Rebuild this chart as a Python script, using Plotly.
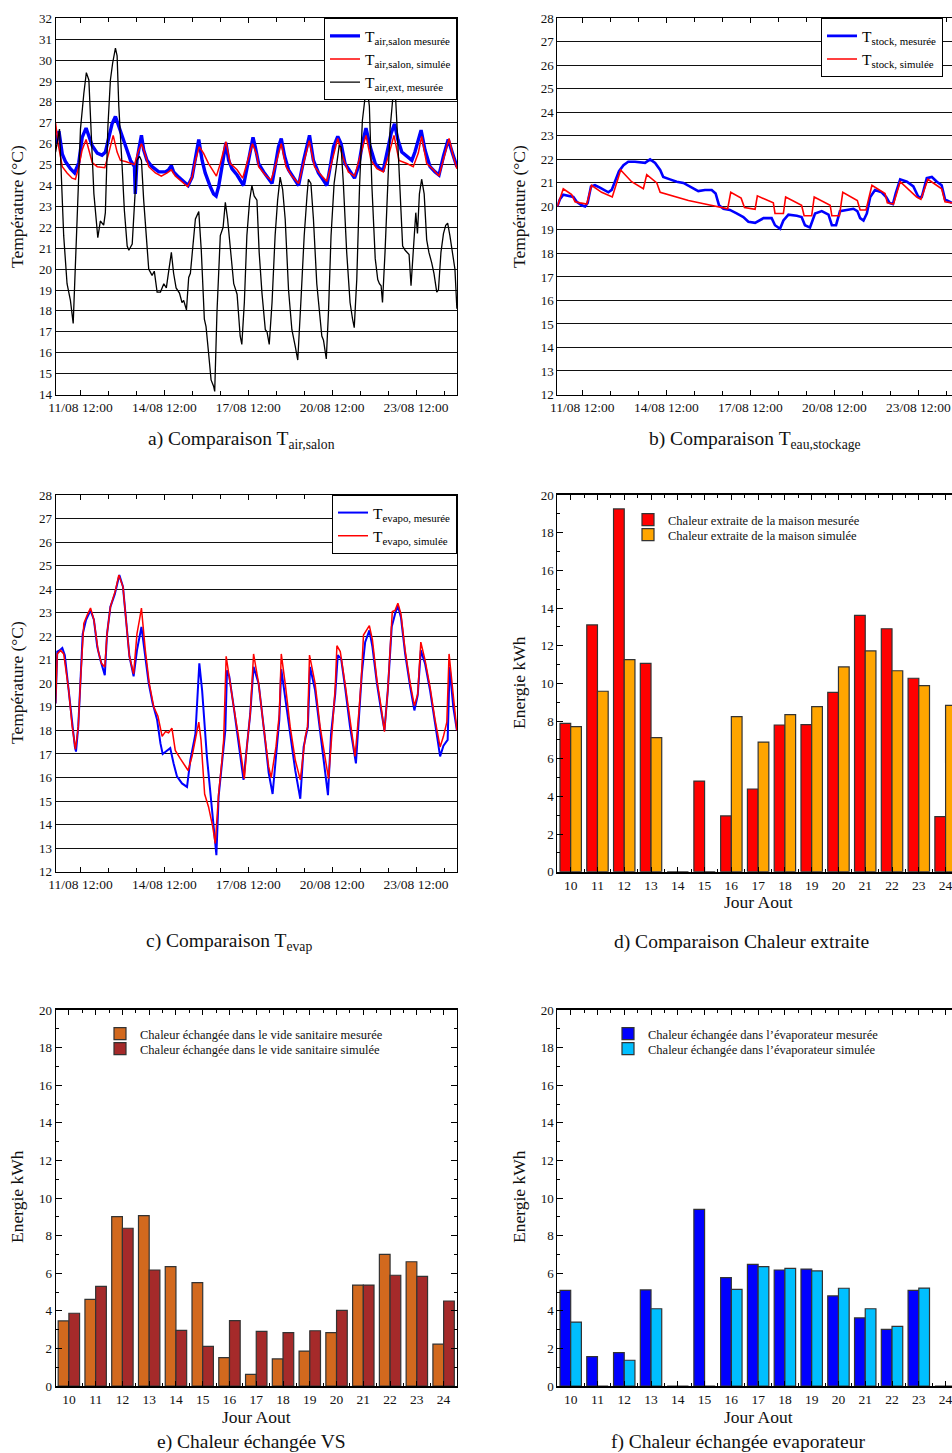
import plotly.graph_objects as go

FONT = "Liberation Serif"
W, H = 952, 1453

# ---------------- time axis: day of August (fractional) ----------------
DATE_TICKS = [11.5, 14.5, 17.5, 20.5, 23.5]
DATE_LABELS = ["11/08 12:00", "14/08 12:00", "17/08 12:00", "20/08 12:00", "23/08 12:00"]

# a) T air salon / exterieur
salon_mes_t = [10.61, 10.73, 10.85, 10.96, 11.14, 11.29, 11.44, 11.56, 11.70, 11.80,
               11.92, 12.10, 12.27, 12.39, 12.51, 12.63, 12.75, 12.87, 12.99, 13.11,
               13.29, 13.43, 13.46, 13.52, 13.61, 13.68, 13.76, 13.88, 14.06, 14.30,
               14.54, 14.65, 14.75, 14.83, 15.01, 15.19, 15.35, 15.49, 15.61, 15.73,
               15.85, 15.96, 16.14, 16.26, 16.35, 16.44, 16.56, 16.70, 16.80, 16.92,
               17.10, 17.21, 17.33, 17.51, 17.67,
               17.75, 17.87, 18.05, 18.23, 18.35, 18.46, 18.58, 18.68, 18.80, 18.94,
               19.12, 19.30, 19.48, 19.69, 19.83, 20.01, 20.19, 20.31, 20.43, 20.55,
               20.70, 20.82, 20.96, 21.14, 21.30, 21.44, 21.58, 21.71, 21.86, 22.04,
               22.21, 22.33, 22.45, 22.61, 22.73, 22.85, 22.99, 23.17, 23.35, 23.46,
               23.58, 23.68, 23.82, 24.00, 24.18, 24.32, 24.48, 24.65, 24.80, 24.96]
salon_mes_v = [26.0, 26.6, 25.5, 25.15, 24.8, 24.6, 25.1, 26.3, 26.75, 26.3,
               25.9, 25.55, 25.45, 25.6, 26.3, 26.95, 27.3, 26.8, 26.3, 25.9,
               25.2, 24.9, 23.6, 25.2, 25.9, 26.4, 25.7, 25.2, 24.9, 24.65,
               24.65, 24.75, 24.95, 24.65, 24.4, 24.2, 24.0, 24.4, 25.4, 26.2,
               25.2, 24.6, 23.95, 23.6, 23.5, 23.95, 24.9, 26.05, 25.2, 24.8,
               24.5, 24.25, 24.0, 25.2, 26.3,
               25.85, 25.05, 24.65, 24.35, 24.1, 24.9, 25.85, 26.25, 25.4, 24.75,
               24.35, 24.0, 25.2, 26.4, 25.2, 24.6, 24.25, 24.0, 24.9, 25.85,
               26.35, 26.0, 25.05, 24.65, 24.35, 24.9, 26.0, 26.75, 25.85, 25.05,
               24.8, 24.75, 25.55, 26.5, 26.95, 26.2, 25.6, 25.4, 25.2, 25.6,
               26.2, 26.65, 25.7, 24.9, 24.65, 24.5, 25.4, 26.2, 25.55, 24.9]

salon_sim_t = [10.61, 10.70, 10.85, 11.02, 11.20, 11.32, 11.44, 11.56, 11.70, 11.80,
               11.92, 12.10, 12.37, 12.51, 12.67, 12.81, 12.93, 13.11, 13.29, 13.43,
               13.56, 13.68, 13.80, 13.94, 14.18, 14.39, 14.60, 14.75, 14.89, 15.13,
               15.33, 15.49, 15.61, 15.75, 15.90, 16.08, 16.26, 16.36, 16.50, 16.70,
               16.86, 17.10, 17.30, 17.49, 17.65, 17.81,
               17.87, 18.11, 18.32, 18.49, 18.68, 18.85, 19.06, 19.30, 19.48, 19.68,
               19.87, 20.13, 20.31, 20.49, 20.70, 20.87, 21.08, 21.30, 21.50, 21.71,
               21.89, 22.10, 22.33, 22.51, 22.71, 22.89, 23.17, 23.40, 23.58, 23.70,
               23.88, 24.12, 24.32, 24.51, 24.68, 24.83, 24.96]
salon_sim_v = [27.0, 26.0, 24.9, 24.6, 24.35, 24.3, 24.9, 25.7, 26.2, 25.7,
               25.1, 24.9, 24.85, 25.55, 26.4, 25.6, 25.2, 25.15, 25.05, 25.0,
               25.6, 26.0, 25.55, 24.9, 24.6, 24.45, 24.6, 24.75, 24.45, 24.2,
               23.95, 24.4, 25.2, 25.85, 25.55, 25.05, 24.65, 24.45, 25.05, 26.1,
               25.05, 24.75, 24.35, 25.2, 26.0, 25.45,
               24.9, 24.5, 24.25, 25.05, 26.0, 24.9, 24.45, 24.1, 25.05, 26.15,
               24.9, 24.45, 24.2, 25.2, 26.25, 25.4, 24.65, 24.45, 25.4, 26.4,
               25.2, 24.8, 24.65, 25.4, 26.4, 25.2, 25.05, 24.9, 25.55, 26.35,
               25.05, 24.75, 24.45, 25.4, 26.25, 25.4, 24.8]

ext_t = [10.61, 10.75, 10.90, 11.02, 11.14, 11.24, 11.38, 11.50, 11.62, 11.71,
         11.80, 11.88, 11.98, 12.12, 12.21, 12.33, 12.39, 12.48, 12.57, 12.65,
         12.75, 12.81, 12.87, 12.99, 13.07, 13.17, 13.23, 13.35, 13.43, 13.52,
         13.61, 13.68, 13.76, 13.84, 13.94, 14.06, 14.14, 14.24, 14.36, 14.48,
         14.57, 14.75, 14.83, 14.92, 15.04, 15.13, 15.19, 15.29, 15.37, 15.43,
         15.52, 15.61, 15.73, 15.82, 15.93, 15.99, 16.08, 16.17, 16.26, 16.30,
         16.38, 16.50, 16.60, 16.68, 16.76, 16.86, 16.98, 17.10, 17.15, 17.21,
         17.27, 17.36, 17.45, 17.55, 17.63, 17.71,
         17.81, 17.89, 17.99, 18.11, 18.17, 18.25, 18.35, 18.46, 18.55, 18.64,
         18.73, 18.82, 18.94, 19.06, 19.18, 19.27, 19.38, 19.50, 19.60, 19.65,
         19.74, 19.83, 19.95, 20.07, 20.13, 20.19, 20.29, 20.37, 20.46, 20.57,
         20.67, 20.75, 20.82, 20.90, 21.02, 21.14, 21.23, 21.29, 21.38, 21.48,
         21.58, 21.68, 21.76, 21.83, 21.92, 22.04, 22.13, 22.19, 22.25, 22.30,
         22.39, 22.49, 22.57, 22.65, 22.73, 22.81, 22.89, 22.96, 23.02, 23.11,
         23.17, 23.25, 23.32, 23.40, 23.49, 23.55, 23.62, 23.70, 23.79, 23.88,
         23.96, 24.06, 24.14, 24.24, 24.30, 24.39, 24.48, 24.56, 24.63, 24.71,
         24.80, 24.89, 24.96]
ext_v = [25.6, 26.7, 21.6, 19.3, 18.5, 17.4, 22.4, 26.7, 28.4, 29.4,
         29.05, 26.7, 23.6, 21.5, 22.3, 22.1, 22.7, 26.8, 29.05, 29.85,
         30.57, 30.2, 27.8, 24.9, 22.8, 21.1, 20.9, 21.2, 23.0, 25.2,
         25.4, 25.2, 23.3, 21.7, 20.0, 19.7, 19.9, 18.9, 18.9, 19.3,
         19.1, 20.8, 19.8, 19.1, 18.85, 18.4, 18.5, 18.05, 19.6, 19.8,
         21.1, 22.4, 22.75, 20.9, 17.6, 17.25, 16.0, 14.7, 14.4, 14.15,
         17.9, 21.6, 22.0, 23.2, 22.4, 20.8, 19.3, 18.8, 18.0, 16.8,
         16.4, 18.4, 21.6, 23.3, 24.0, 23.5,
         23.3, 20.8, 18.85, 17.1, 17.0, 16.4, 18.4, 21.6, 23.3, 24.4,
         23.8, 22.4, 19.0, 17.1, 16.3, 15.65, 18.4, 21.6, 23.5, 24.3,
         24.1, 22.4, 19.3, 17.6, 16.8, 16.6, 15.7, 18.0, 21.6, 24.1,
         25.2, 25.9, 25.85, 24.1, 20.8, 18.4, 17.6, 17.2, 19.5, 24.0,
         27.1, 28.25, 28.6, 27.8, 24.0, 20.5, 19.5, 19.3, 19.2, 18.4,
         20.8, 24.3, 26.7, 27.9, 29.2, 27.1, 24.75, 22.4, 21.1, 20.9,
         20.8, 20.7, 19.2, 20.8, 22.7, 21.7, 23.6, 24.3, 23.6, 21.4,
         20.8, 20.3, 19.8, 18.9, 19.0, 20.8, 21.7, 22.1, 22.2, 21.6,
         20.8, 20.0, 18.1]

# b) T eau stockage
stock_mes_t = [10.61, 10.70, 10.82, 11.00, 11.18, 11.30, 11.48, 11.60, 11.69, 11.81,
               11.95, 12.13, 12.31, 12.43, 12.55, 12.67, 12.81, 12.97, 13.14, 13.38,
               13.62, 13.74, 13.92, 14.10, 14.28, 14.39, 14.63, 14.87, 15.11, 15.41,
               15.64, 15.88, 16.12, 16.26, 16.38, 16.54, 16.77, 17.01, 17.25, 17.43,
               17.67, 17.97, 18.26, 18.38, 18.56, 18.68, 18.86, 19.16, 19.33, 19.45,
               19.63, 19.81, 20.05, 20.29, 20.41, 20.56, 20.70, 20.94, 21.18, 21.32,
               21.42, 21.54, 21.66, 21.78, 21.95, 22.19, 22.35, 22.47, 22.59, 22.69,
               22.85, 23.09, 23.32, 23.50, 23.62, 23.80, 23.98, 24.16, 24.33, 24.45,
               24.63, 24.70]
stock_mes_v = [20.0, 20.3, 20.5, 20.45, 20.4, 20.2, 20.05, 20.0, 20.15, 20.85,
               20.9, 20.8, 20.7, 20.6, 20.7, 21.05, 21.5, 21.75, 21.9, 21.9,
               21.85, 21.85, 22.0, 21.85, 21.55, 21.25, 21.15, 21.05, 21.0, 20.8,
               20.65, 20.7, 20.7, 20.55, 20.05, 19.9, 19.85, 19.7, 19.55, 19.35,
               19.3, 19.5, 19.5, 19.2, 19.05, 19.4, 19.65, 19.6, 19.55, 19.2,
               19.1, 19.7, 19.8, 19.65, 19.2, 19.2, 19.8, 19.85, 19.9, 19.8,
               19.5, 19.4, 19.7, 20.4, 20.7, 20.6, 20.4, 20.15, 20.1, 20.55,
               21.15, 21.05, 20.85, 20.4, 20.4, 21.2, 21.25, 21.05, 20.9, 20.3,
               20.2, 20.15]

stock_sim_t = [10.61, 10.82, 11.12, 11.24, 11.42, 11.66, 11.83, 12.19, 12.57, 12.69,
               12.87, 13.26, 13.68, 13.80, 14.16, 14.28, 14.69, 15.29, 15.88, 16.36,
               16.69, 16.80, 17.17, 17.29, 17.67, 17.75, 18.32, 18.38, 18.68, 18.76,
               19.33, 19.42, 19.69, 19.78, 20.35, 20.41, 20.68, 20.80, 21.32, 21.42,
               21.63, 21.84, 22.31, 22.39, 22.61, 22.85, 23.44, 23.59, 23.84, 24.33,
               24.45, 24.70]
stock_sim_v = [20.0, 20.75, 20.5, 20.2, 20.15, 20.1, 20.9, 20.6, 20.4, 20.9,
               21.55, 21.05, 20.75, 21.35, 21.0, 20.6, 20.45, 20.25, 20.1, 19.97,
               19.9, 20.6, 20.35, 19.95, 19.88, 20.45, 20.15, 19.7, 19.7, 20.4,
               20.05, 19.6, 19.6, 20.4, 20.05, 19.6, 19.6, 20.6, 20.25, 19.85,
               19.85, 20.9, 20.55, 20.15, 20.1, 21.05, 20.4, 20.3, 21.15, 20.75,
               20.2, 20.15]

# c) T evaporateur
evap_mes_t = [10.61, 10.67, 10.75, 10.85, 10.94, 11.08, 11.20, 11.30, 11.34, 11.42,
              11.50, 11.58, 11.70, 11.86, 11.98, 12.10, 12.21, 12.37, 12.45, 12.57,
              12.73, 12.89, 13.02, 13.13, 13.25, 13.40, 13.52, 13.68, 13.80, 13.94,
              14.08, 14.24, 14.36, 14.44, 14.60, 14.71, 14.83, 14.95, 15.13, 15.31,
              15.43, 15.61, 15.75, 15.85, 16.02, 16.20, 16.36, 16.44, 16.56, 16.68,
              16.74, 16.82, 16.98, 17.15, 17.33, 17.45, 17.57, 17.69,
              17.87, 18.05, 18.23, 18.37, 18.49, 18.61, 18.68, 18.82, 19.00, 19.18,
              19.36, 19.48, 19.63, 19.71, 19.89, 20.07, 20.23, 20.35, 20.46, 20.61,
              20.70, 20.82, 20.96, 21.14, 21.35, 21.46, 21.56, 21.68, 21.83, 21.94,
              22.10, 22.25, 22.37, 22.49, 22.63, 22.75, 22.85, 22.96, 23.11, 23.29,
              23.44, 23.56, 23.67, 23.82, 24.00, 24.18, 24.36, 24.48, 24.63, 24.70,
              24.83, 24.96]
evap_mes_v = [19.15, 21.35, 21.4, 21.5, 21.2, 19.7, 18.15, 17.3, 17.1, 18.15,
              20.1, 22.1, 22.7, 23.1, 22.7, 21.55, 21.0, 20.35, 22.1, 23.25,
              23.8, 24.6, 24.1, 22.55, 21.15, 20.3, 21.4, 22.4, 21.3, 20.0,
              19.15, 18.45, 17.45, 17.0, 17.15, 17.25, 16.6, 16.05, 15.75, 15.6,
              16.75, 17.85, 20.85, 19.7, 16.9, 14.75, 12.7, 15.2, 16.75, 18.0,
              20.55, 20.3, 19.0, 17.6, 15.9, 17.3, 18.7, 20.7,
              20.0, 18.15, 16.2, 15.3, 17.0, 18.45, 20.6, 19.45, 17.85, 16.3,
              15.1, 17.3, 18.15, 20.7, 19.7, 17.85, 16.45, 15.25, 17.85, 19.55,
              21.2, 21.05, 19.85, 18.15, 16.6, 18.7, 20.4, 21.75, 22.25, 21.55,
              20.0, 18.85, 18.0, 19.7, 22.4, 22.95, 23.3, 22.8, 21.25, 19.85,
              18.85, 19.5, 21.4, 20.85, 19.7, 18.3, 16.9, 17.35, 17.6, 20.7,
              19.0, 18.0]

evap_sim_t = [10.61, 10.67, 10.79, 10.90, 11.08, 11.20, 11.32, 11.42, 11.50, 11.62,
              11.74, 11.86, 11.98, 12.13, 12.25, 12.37, 12.45, 12.57, 12.75, 12.87,
              13.02, 13.13, 13.25, 13.40, 13.52, 13.61, 13.68, 13.73, 13.82, 13.96,
              14.12, 14.27, 14.42, 14.54, 14.65, 14.77, 14.89, 15.07, 15.25, 15.35,
              15.49, 15.63, 15.73, 15.81, 15.94, 16.08, 16.23, 16.32, 16.44, 16.56,
              16.62, 16.71, 16.80, 16.98, 17.15, 17.36, 17.45, 17.57, 17.69,
              17.87, 18.05, 18.23, 18.32, 18.49, 18.61, 18.68, 18.82, 19.00, 19.18,
              19.36, 19.54, 19.62, 19.69, 19.89, 20.07, 20.25, 20.37, 20.51, 20.61,
              20.67, 20.79, 20.96, 21.14, 21.32, 21.46, 21.54, 21.62, 21.83, 21.94,
              22.10, 22.25, 22.37, 22.49, 22.61, 22.65, 22.75, 22.85, 22.96, 23.11,
              23.29, 23.44, 23.56, 23.67, 23.82, 24.00, 24.18, 24.36, 24.48, 24.60,
              24.68, 24.83, 24.96]
evap_sim_v = [19.15, 21.25, 21.4, 21.25, 19.7, 18.2, 17.2, 18.15, 20.1, 22.55,
              22.9, 23.2, 22.7, 21.4, 20.85, 20.7, 22.1, 23.25, 23.95, 24.6,
              24.1, 22.55, 21.15, 20.4, 22.1, 22.7, 23.2, 22.55, 21.4, 20.0,
              19.0, 18.6, 17.75, 17.95, 17.9, 18.1, 17.15, 16.8, 16.45, 16.3,
              16.9, 17.85, 18.35, 17.6, 15.3, 14.75, 13.9, 13.2, 15.3, 16.75,
              17.6, 21.15, 20.4, 19.0, 17.75, 15.95, 17.3, 18.7, 21.25,
              20.0, 18.15, 16.45, 16.0, 17.3, 18.7, 21.25, 20.0, 18.15, 16.75,
              15.9, 17.75, 18.15, 21.2, 20.0, 18.15, 16.75, 15.95, 18.15, 19.85,
              21.6, 21.35, 20.0, 18.45, 16.9, 18.85, 20.15, 22.05, 22.45, 21.85,
              20.15, 19.0, 17.95, 19.7, 22.1, 23.05, 23.1, 23.4, 22.95, 21.4,
              20.0, 19.05, 19.55, 21.75, 21.0, 19.85, 18.45, 17.3, 17.75, 18.35,
              21.25, 19.45, 18.0]

# ---------------- daily energies (kWh) ----------------
jours = list(range(10, 25))
extraite_mes = [7.88, 13.1, 19.26, 11.06, 0, 4.81, 2.96, 4.39, 7.79, 7.81, 9.52, 13.61, 12.9, 10.27, 2.92]
extraite_sim = [7.70, 9.58, 11.26, 7.12, 0, 0, 8.23, 6.88, 8.34, 8.76, 10.87, 11.72, 10.67, 9.88, 8.83]
vs_mes = [3.46, 4.61, 9.01, 9.06, 6.35, 5.5, 1.51, 0.62, 1.44, 1.86, 2.84, 5.37, 7.0, 6.61, 2.23]
vs_sim = [3.87, 5.30, 8.39, 6.17, 2.96, 2.11, 3.48, 2.91, 2.84, 2.94, 4.02, 5.37, 5.89, 5.83, 4.52]
evapo_mes = [5.09, 1.56, 1.77, 5.11, 0, 9.40, 5.76, 6.47, 6.17, 6.22, 4.79, 3.62, 3.01, 5.09, 0]
evapo_sim = [3.40, 0, 1.37, 4.11, 0, 0, 5.14, 6.35, 6.26, 6.12, 5.2, 4.11, 3.17, 5.21, 0]

# ---------------- layout geometry ----------------
LEFT = [55.5 / W, 457 / W]
RIGHT = [557.3 / W, 1.0]
ROW1 = [1 - 394.5 / H, 1 - 18.3 / H]
ROW2 = [1 - 871.7 / H, 1 - 495 / H]
ROW3 = [1 - 1386 / H, 1 - 1010 / H]
T_LEFT = [10.607, 24.964]
T_RIGHT = [10.607, 24.70]
D_LEFT = [9.5, 24.5]
D_RIGHT = [9.5, 24.24]

tick_font = dict(family=FONT, size=13, color="#111")


def time_xaxis(domain, rng, anchor):
    return dict(domain=domain, range=rng, anchor=anchor, tickmode="array",
                tickvals=DATE_TICKS, ticktext=DATE_LABELS, ticks="inside", ticklen=5,
                tickcolor="black", showline=True, linecolor="black", linewidth=1,
                mirror="ticks", showgrid=False, zeroline=False,
                ticklabeloverflow="allow", tickfont=dict(tick_font, size=13.5),
                minor=dict(tickmode="linear", tick0=0.5, dtick=1, ticks="inside",
                           ticklen=4, tickcolor="black", showgrid=False))


def temp_yaxis(domain, rng, anchor, mirror):
    return dict(domain=domain, range=rng, anchor=anchor, tickmode="linear", tick0=0,
                dtick=1, ticks="", showgrid=True, gridcolor="#111", gridwidth=1,
                showline=True, linecolor="black", linewidth=1, mirror=mirror,
                zeroline=False, tickfont=tick_font)


def day_xaxis(domain, rng, anchor):
    return dict(domain=domain, range=rng, anchor=anchor, tickmode="linear", tick0=10,
                dtick=1, ticks="inside", ticklen=5, tickcolor="black", showline=True,
                linecolor="black", linewidth=1.5, mirror="ticks", showgrid=False,
                zeroline=False, ticklabeloverflow="allow",
                tickfont=dict(tick_font, size=13.5),
                minor=dict(tickmode="linear", tick0=9.5, dtick=1, ticks="inside",
                           ticklen=3, tickcolor="black", showgrid=False))


def energy_yaxis(domain, anchor, mirror):
    return dict(domain=domain, range=[0, 20], anchor=anchor, tickmode="linear",
                tick0=0, dtick=2, ticks="inside", ticklen=6, tickcolor="black",
                showline=True, linecolor="black", linewidth=1, mirror=mirror,
                showgrid=False, zeroline=False, tickfont=tick_font,
                minor=dict(tickmode="linear", tick0=0, dtick=1, ticks="inside",
                           ticklen=3, tickcolor="black", showgrid=False))


fig = go.Figure()

# a)
fig.add_trace(go.Scatter(x=salon_mes_t, y=salon_mes_v, mode="lines", line=dict(color="#0000ff", width=3.4),
                         name="T<sub>air,salon mesurée</sub>", xaxis="x", yaxis="y", legend="legend"))
fig.add_trace(go.Scatter(x=salon_sim_t, y=salon_sim_v, mode="lines", line=dict(color="#ff0000", width=1.5),
                         name="T<sub>air,salon, simulée</sub>", xaxis="x", yaxis="y", legend="legend"))
fig.add_trace(go.Scatter(x=ext_t, y=ext_v, mode="lines", line=dict(color="black", width=1.3),
                         name="T<sub>air,ext, mesurée</sub>", xaxis="x", yaxis="y", legend="legend"))
# b)
fig.add_trace(go.Scatter(x=stock_mes_t, y=stock_mes_v, mode="lines", line=dict(color="#0000ff", width=2.6),
                         name="T<sub>stock, mesurée</sub>", xaxis="x2", yaxis="y2", legend="legend2"))
fig.add_trace(go.Scatter(x=stock_sim_t, y=stock_sim_v, mode="lines", line=dict(color="#ff0000", width=1.6),
                         name="T<sub>stock, simulée</sub>", xaxis="x2", yaxis="y2", legend="legend2"))
# c)
fig.add_trace(go.Scatter(x=evap_mes_t, y=evap_mes_v, mode="lines", line=dict(color="#0000ff", width=2),
                         name="T<sub>evapo, mesurée</sub>", xaxis="x3", yaxis="y3", legend="legend3"))
fig.add_trace(go.Scatter(x=evap_sim_t, y=evap_sim_v, mode="lines", line=dict(color="#ff0000", width=1.5),
                         name="T<sub>evapo, simulée</sub>", xaxis="x3", yaxis="y3", legend="legend3"))

bar_line = dict(color="#333", width=1.2)
# d)
fig.add_trace(go.Bar(x=jours, y=extraite_mes, marker=dict(color="#ff0000", line=bar_line),
                     name="Chaleur extraite de la maison mesurée", xaxis="x4", yaxis="y4", legend="legend4"))
fig.add_trace(go.Bar(x=jours, y=extraite_sim, marker=dict(color="#ffa500", line=bar_line),
                     name="Chaleur extraite de la maison simulée", xaxis="x4", yaxis="y4", legend="legend7"))
# e)
fig.add_trace(go.Bar(x=jours, y=vs_mes, marker=dict(color="#d2691e", line=bar_line),
                     name="Chaleur échangée dans le vide sanitaire mesurée", xaxis="x5", yaxis="y5", legend="legend5"))
fig.add_trace(go.Bar(x=jours, y=vs_sim, marker=dict(color="#a52a2a", line=bar_line),
                     name="Chaleur échangée dans le vide sanitaire simulée", xaxis="x5", yaxis="y5", legend="legend8"))
# f)
fig.add_trace(go.Bar(x=jours, y=evapo_mes, marker=dict(color="#0000ff", line=bar_line),
                     name="Chaleur échangée dans l’évaporateur mesurée", xaxis="x6", yaxis="y6", legend="legend6"))
fig.add_trace(go.Bar(x=jours, y=evapo_sim, marker=dict(color="#00bfff", line=bar_line),
                     name="Chaleur échangée dans l’évaporateur simulée", xaxis="x6", yaxis="y6", legend="legend9"))

line_legend = dict(bgcolor="white", bordercolor="black", borderwidth=1,
                   font=dict(family=FONT, size=15.5, color="black"), tracegroupgap=0)
bar_legend = dict(bgcolor="rgba(0,0,0,0)", borderwidth=0, itemwidth=30,
                  font=dict(family=FONT, size=12.5, color="#111"), tracegroupgap=0)


def bar_leg(x, top):
    return dict(bar_legend, x=x / W, xanchor="left", y=1 - top / H, yanchor="top")


def annot(text, cx, cy, size, angle=0):
    return dict(text=text, x=cx / W, y=1 - cy / H, xref="paper", yref="paper",
                xanchor="center", yanchor="middle", showarrow=False, textangle=angle,
                font=dict(family=FONT, size=size, color="#111"))


annotations = [
    annot("a) Comparaison T<sub>air,salon</sub>", 241, 440, 19.5),
    annot("b) Comparaison T<sub>eau,stockage</sub>", 755, 440, 19.5),
    annot("c) Comparaison T<sub>evap</sub>", 229, 942, 19.5),
    annot("d) Comparaison Chaleur extraite", 741, 942, 19.5),
    annot("e) Chaleur échangée VS", 251, 1442, 19.5),
    annot("f) Chaleur échangée evaporateur", 738, 1442, 19.5),
    annot("Température (°C)", 17, 207, 17.5, -90),
    annot("Température (°C)", 519, 207, 17.5, -90),
    annot("Température (°C)", 17, 683, 17.5, -90),
    annot("Energie kWh", 519, 683, 17.5, -90),
    annot("Energie kWh", 17, 1197, 17.5, -90),
    annot("Energie kWh", 519, 1197, 17.5, -90),
    annot("Jour Aout", 758, 902, 17.5),
    annot("Jour Aout", 256, 1417, 17.5),
    annot("Jour Aout", 758, 1417, 17.5),
]

fig.update_layout(
    width=W, height=H,
    margin=dict(l=0, r=0, t=0, b=0, autoexpand=False),
    paper_bgcolor="white", plot_bgcolor="white",
    font=dict(family=FONT, color="#111"),
    barmode="group", bargap=0.2, bargroupgap=0,
    showlegend=True,
    xaxis=time_xaxis(LEFT, T_LEFT, "y"),
    yaxis=temp_yaxis(ROW1, [14, 32], "x", True),
    xaxis2=time_xaxis(RIGHT, T_RIGHT, "y2"),
    yaxis2=temp_yaxis(ROW1, [12, 28], "x2", False),
    xaxis3=time_xaxis(LEFT, T_LEFT, "y3"),
    yaxis3=temp_yaxis(ROW2, [12, 28], "x3", True),
    xaxis4=day_xaxis(RIGHT, D_RIGHT, "y4"),
    yaxis4=energy_yaxis(ROW2, "x4", False),
    xaxis5=day_xaxis(LEFT, D_LEFT, "y5"),
    yaxis5=energy_yaxis(ROW3, "x5", "ticks"),
    xaxis6=day_xaxis(RIGHT, D_RIGHT, "y6"),
    yaxis6=energy_yaxis(ROW3, "x6", False),
    legend=dict(line_legend, x=457 / W, xanchor="right", y=1 - 18.3 / H, yanchor="top"),
    legend2=dict(line_legend, x=821 / W, xanchor="left", y=1 - 18.3 / H, yanchor="top"),
    legend3=dict(line_legend, x=457 / W, xanchor="right", y=1 - 495 / H, yanchor="top"),
    legend4=bar_leg(628, 505),
    legend7=bar_leg(628, 520),
    legend5=bar_leg(100, 1019),
    legend8=bar_leg(100, 1034),
    legend6=bar_leg(608, 1019),
    legend9=bar_leg(608, 1034),
    annotations=annotations,
)

fig.write_html("out.html", config={"displayModeBar": False},
               post_script="document.body.style.margin='0px';")
